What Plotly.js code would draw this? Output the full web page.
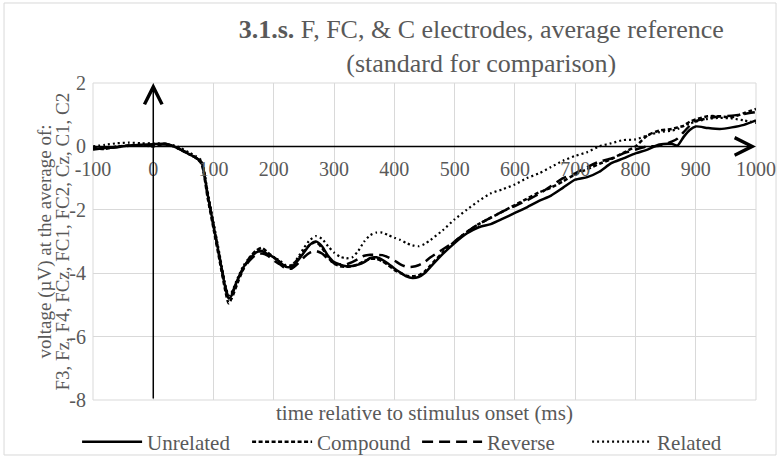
<!DOCTYPE html>
<html>
<head>
<meta charset="utf-8">
<script src="https://cdn.plot.ly/plotly-3.0.1.min.js"></script>
<style>html,body{margin:0;padding:0;background:#fff;}#chart{width:780px;height:457px;}</style>
</head>
<body>
<div id="chart"></div>
<script>
// time (ms) relative to stimulus onset
var timeMs = [-100,-80,-60,-40,-20,0,20,40,
  60,70,80,90,100,110,120,125,
  130,140,150,160,170,180,190,200,210,220,
  230,240,250,260,270,280,290,300,310,320,
  330,340,350,360,370,380,390,400,410,420,
  430,440,450,460,
  480,500,520,540,560,580,600,620,640,660,
  680,700,720,740,760,780,800,820,840,860,
  870,880,890,900,
  920,940,960,980,1000];

var unrelated = [-0.1,-0.05,-0.02,0.03,0.05,0.07,0.08,-0.05,
  -0.25,-0.35,-0.5,-1.5,-2.5,-3.5,-4.5,-4.8,
  -4.7,-4.2,-3.8,-3.55,-3.35,-3.3,-3.4,-3.5,-3.65,-3.8,
  -3.8,-3.6,-3.35,-3.1,-3.0,-3.15,-3.45,-3.65,-3.73,-3.78,
  -3.77,-3.73,-3.65,-3.52,-3.5,-3.58,-3.7,-3.85,-3.98,-4.1,
  -4.15,-4.12,-4.0,-3.8,
  -3.4,-3.05,-2.75,-2.55,-2.45,-2.28,-2.1,-1.92,-1.72,-1.55,
  -1.3,-1.05,-0.97,-0.8,-0.53,-0.38,-0.22,-0.1,0.06,0.08,
  0.03,0.3,0.52,0.63,
  0.58,0.55,0.6,0.68,0.82];

var compound = [-0.05,-0.08,0.0,0.03,0.04,0.0,0.08,-0.05,
  -0.25,-0.35,-0.55,-1.6,-2.6,-3.6,-4.6,-4.95,
  -4.8,-4.3,-3.85,-3.5,-3.3,-3.2,-3.35,-3.5,-3.65,-3.78,
  -3.75,-3.55,-3.3,-3.1,-3.02,-3.2,-3.5,-3.7,-3.78,-3.8,
  -3.78,-3.72,-3.62,-3.55,-3.55,-3.62,-3.75,-3.9,-4.0,-4.08,
  -4.1,-4.07,-3.95,-3.75,
  -3.35,-3.0,-2.7,-2.45,-2.25,-2.05,-1.85,-1.65,-1.45,-1.3,
  -1.1,-0.88,-0.72,-0.55,-0.4,-0.2,0.0,0.35,0.5,0.55,
  0.6,0.65,0.78,0.85,
  0.95,0.95,0.92,1.05,1.18];

var reverse = [-0.08,-0.05,-0.03,0.02,0.03,0.05,0.06,-0.05,
  -0.25,-0.35,-0.5,-1.5,-2.5,-3.5,-4.45,-4.75,
  -4.65,-4.2,-3.85,-3.6,-3.42,-3.38,-3.45,-3.6,-3.72,-3.85,
  -3.85,-3.7,-3.5,-3.35,-3.3,-3.38,-3.55,-3.68,-3.72,-3.72,
  -3.65,-3.55,-3.45,-3.42,-3.42,-3.43,-3.5,-3.6,-3.72,-3.8,
  -3.8,-3.75,-3.65,-3.5,
  -3.25,-3.0,-2.7,-2.45,-2.25,-2.05,-1.88,-1.7,-1.5,-1.25,
  -1.0,-0.85,-0.65,-0.48,-0.38,-0.22,-0.1,0.0,0.02,0.15,
  0.25,0.45,0.65,0.8,
  0.88,0.95,0.97,1.02,1.08];

var related = [0.0,0.05,0.1,0.12,0.1,0.1,0.08,0.0,
  -0.2,-0.3,-0.45,-1.4,-2.4,-3.4,-4.4,-4.7,
  -4.6,-4.15,-3.75,-3.5,-3.35,-3.3,-3.4,-3.5,-3.6,-3.75,
  -3.75,-3.5,-3.2,-2.95,-2.83,-2.92,-3.15,-3.35,-3.48,-3.53,
  -3.5,-3.3,-3.0,-2.8,-2.72,-2.72,-2.8,-2.88,-2.95,-3.05,
  -3.12,-3.15,-3.08,-2.95,
  -2.65,-2.3,-2.0,-1.72,-1.48,-1.35,-1.2,-1.0,-0.85,-0.65,
  -0.45,-0.3,-0.18,0.0,0.1,0.2,0.22,0.35,0.45,0.5,
  0.55,0.65,0.72,0.78,
  0.87,0.9,0.88,0.82,0.74];

var seriesNames = ['Unrelated','Compound','Reverse','Related'];

var xTickVals = [-100,0,100,200,300,400,500,600,700,800,900,1000];
var xTickLabels = ['-100','0','100','200','300','400','500','600','700','800','900','1000'];
var yTickVals = [-8,-6,-4,-2,0,2];
var yTickLabels = ['-8','-6','-4','-2','0','2'];

var titleText = '<b>3.1.s.</b> F, FC, & C electrodes, average reference<br>(standard for comparison)';
var xTitle = 'time relative to stimulus onset (ms)';
var yTitleLines = ['voltage (µV) at the average of:', 'F3, Fz, F4, FCz, FC1, FC2, Cz, C1, C2'];

var FONT = 'Liberation Serif, Times New Roman, serif';
var GREY = '#595959';
var GRID = '#d9d9d9';

function tr(name, y, dash, w) {
  return {x: timeMs, y: y, name: name, type: 'scatter', mode: 'lines',
    line: {color: '#000', width: w, dash: dash, shape: 'spline', smoothing: 0.6}};
}
var data = [
  tr(seriesNames[0], unrelated, 'solid', 2.5),
  tr(seriesNames[1], compound, '4px,2.5px', 2.5),
  tr(seriesNames[2], reverse, '11px,6px', 2.5),
  tr(seriesNames[3], related, '2px,3px', 2.2)
];

var layout = {
  width: 780, height: 457,
  margin: {l: 93, r: 24, t: 83, b: 57, autoexpand: false},
  paper_bgcolor: '#fff', plot_bgcolor: '#fff',
  font: {family: FONT, color: GREY, size: 20},
  title: {
    text: titleText,
    font: {family: FONT, size: 26, color: GREY},
    x: 0.617, xanchor: 'center', xref: 'container',
    y: 0.916, yanchor: 'top', yref: 'container'
  },
  xaxis: {
    range: [-100, 1000], tickvals: xTickVals, ticktext: xTickLabels,
    showgrid: true, gridcolor: GRID, gridwidth: 1,
    zeroline: false, showline: false, ticks: '',
    anchor: 'free', position: 0.8, ticklabelstandoff: 9, automargin: false,
    tickfont: {family: FONT, size: 20, color: GREY}
  },
  yaxis: {
    range: [-8, 2], tickvals: yTickVals, ticktext: yTickLabels,
    showgrid: true, gridcolor: GRID, gridwidth: 1,
    zeroline: false, showline: false, ticks: '', ticklabelstandoff: 6, automargin: false,
    tickfont: {family: FONT, size: 20, color: GREY}
  },
  showlegend: true,
  legend: {
    orientation: 'h', x: -0.024, xanchor: 'left', y: -0.1325, yanchor: 'middle',
    entrywidth: 95, entrywidthmode: 'pixels', itemwidth: 60,
    font: {family: FONT, size: 21, color: GREY}, bgcolor: 'rgba(0,0,0,0)'
  },
  shapes: [
    {type: 'rect', xref: 'paper', yref: 'paper', x0: 0, x1: 1, y0: 0, y1: 1,
      line: {color: GRID, width: 1}, layer: 'below'},
    {type: 'rect', xref: 'paper', yref: 'paper', x0: -0.1342, x1: 1.0302, y0: -0.1735, y1: 1.2524,
      line: {color: GRID, width: 1}, layer: 'below'}
  ],
  annotations: [
    {text: xTitle, xref: 'paper', yref: 'paper',
      x: 0.5, y: -0.041, xanchor: 'center', yanchor: 'middle', showarrow: false,
      font: {family: FONT, size: 21, color: GREY}},
    {text: yTitleLines[0], xref: 'paper', yref: 'paper', textangle: -90,
      x: (44 - 93) / 663, y: 0.5, xanchor: 'center', yanchor: 'middle', showarrow: false,
      font: {family: FONT, size: 19, color: GREY}},
    {text: yTitleLines[1], xref: 'paper', yref: 'paper', textangle: -90,
      x: (62 - 93) / 663, y: 0.5, xanchor: 'center', yanchor: 'middle', showarrow: false,
      font: {family: FONT, size: 19, color: GREY}},
    {text: '', x: 1000, y: 0, xref: 'x', yref: 'y', ax: -100, ay: 0, axref: 'x', ayref: 'y',
      showarrow: true, arrowhead: 5, arrowsize: 2.3, arrowwidth: 1.5, arrowcolor: '#000', standoff: 0, startstandoff: 0},
    {text: '', x: 0, y: 2, xref: 'x', yref: 'y', ax: 0, ay: -8, axref: 'x', ayref: 'y',
      showarrow: true, arrowhead: 5, arrowsize: 2.3, arrowwidth: 1.5, arrowcolor: '#000', standoff: 0, startstandoff: 0}
  ]
};

Plotly.newPlot('chart', data, layout, {staticPlot: true, displayModeBar: false});
</script>
</body>
</html>
